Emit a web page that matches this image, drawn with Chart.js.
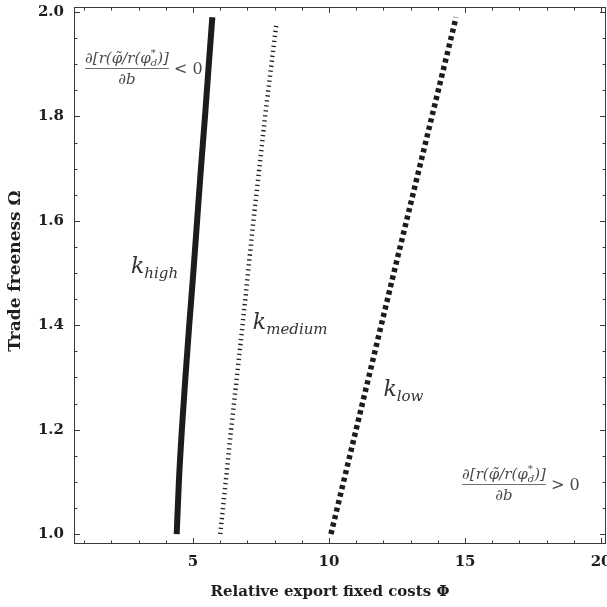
<!DOCTYPE html>
<html lang="en">
<head>
<meta charset="UTF-8">
<title>Trade freeness vs relative export fixed costs</title>
<script src="https://cdn.jsdelivr.net/npm/chart.js"></script>
<style>
  html, body { margin: 0; padding: 0; background: #fff; }
  #wrap { width: 607px; height: 607px; position: relative; }
</style>
</head>
<body>
<div id="wrap"><canvas id="chart"></canvas></div>
<script>
// curve data (Phi on x, Omega on y)
const omegaHigh = [1.0, 1.1, 1.2, 1.3, 1.4, 1.5, 1.6, 1.7, 1.8, 1.9, 1.99];
const phiHigh   = [4.40, 4.48, 4.59, 4.72, 4.86, 5.01, 5.15, 5.29, 5.44, 5.58, 5.71];

const omegaMedium = [1.0, 1.2, 1.4, 1.6, 1.8, 1.98];
const phiMedium   = [6.0, 6.40, 6.82, 7.22, 7.65, 8.07];

const omegaLow = [1.0, 1.5, 1.99];
const phiLow   = [10.07, 12.38, 14.67];

const xTicks = [5, 10, 15, 20];
const yTicks = [1.0, 1.2, 1.4, 1.6, 1.8, 2.0];

const toPoints = (xs, ys) => xs.map((x, i) => ({ x: x, y: ys[i] }));

// tick marks (inward, all four sides) + labels on the plot
const decorPlugin = {
  id: 'decor',
  afterDraw(chart) {
    const ctx = chart.ctx;
    const a = chart.chartArea;
    const xs = chart.scales.x, ys = chart.scales.y;
    ctx.save();
    ctx.strokeStyle = '#3a3a3a';
    ctx.lineWidth = 1;
    ctx.strokeRect(a.left + 0.5, a.top + 0.5, a.right - a.left - 1, a.bottom - a.top - 1);

    // x ticks: minor every 1, major every 5
    for (let v = 1; v <= 20; v++) {
      const px = Math.round(xs.getPixelForValue(v)) + 0.5;
      const len = v % 5 === 0 ? 6 : 3.5;
      ctx.beginPath();
      ctx.moveTo(px, a.bottom); ctx.lineTo(px, a.bottom - len);
      ctx.moveTo(px, a.top); ctx.lineTo(px, a.top + len);
      ctx.stroke();
    }
    // y ticks: minor every 0.05, major every 0.2
    for (let i = 0; i <= 20; i++) {
      const v = 1 + i * 0.05;
      const py = Math.round(ys.getPixelForValue(v)) + 0.5;
      const len = i % 4 === 0 ? 6 : 3.5;
      ctx.beginPath();
      ctx.moveTo(a.left, py); ctx.lineTo(a.left + len, py);
      ctx.moveTo(a.right, py); ctx.lineTo(a.right - len, py);
      ctx.stroke();
    }

    // axis titles
    ctx.fillStyle = '#1e1e1e';
    ctx.textAlign = 'center';
    ctx.textBaseline = 'middle';
    ctx.font = 'bold 15px "DejaVu Serif", serif';
    ctx.fillText('Relative export fixed costs \u03A6', 330, 592);
    ctx.save();
    ctx.translate(16, 271);
    ctx.rotate(-Math.PI / 2);
    ctx.font = 'bold 17px "DejaVu Serif", serif';
    ctx.fillText('Trade freeness \u03A9', 0, 0);
    ctx.restore();

    // curve labels k_high, k_medium, k_low
    const kLabel = (sub, x, y) => {
      ctx.fillStyle = '#333';
      ctx.textAlign = 'left';
      ctx.textBaseline = 'alphabetic';
      ctx.font = 'italic 22px "DejaVu Serif", serif';
      ctx.fillText('k', x, y);
      const w = ctx.measureText('k').width;
      ctx.font = 'italic 15px "DejaVu Serif", serif';
      ctx.fillText(sub, x + w, y + 5);
    };
    kLabel('high', xs.getPixelForValue(2.72), ys.getPixelForValue(1.5));
    kLabel('medium', xs.getPixelForValue(7.2), ys.getPixelForValue(1.393));
    kLabel('low', xs.getPixelForValue(12.0), ys.getPixelForValue(1.265));

    // derivative fractions
    const fraction = (cx, lineY, rel) => {
      ctx.fillStyle = '#4a4a4a';
      ctx.strokeStyle = '#4a4a4a';
      ctx.textBaseline = 'alphabetic';
      const big = 'italic 15px "DejaVu Serif", serif';
      const small = 'italic 10px "DejaVu Serif", serif';
      const runs = [
        { t: '\u2202[r(', f: big, dy: 0 },
        { t: '\u03C6\u0303', f: big, dy: 0 },
        { t: '/r(\u03C6', f: big, dy: 0 },
        { t: '*', f: small, dy: -7, stack: true },
        { t: 'd', f: small, dy: 3 },
        { t: ')]', f: big, dy: 0 }
      ];
      let total = 0;
      runs.forEach(r => { ctx.font = r.f; r.w = ctx.measureText(r.t).width; if (!r.stack) total += r.w; });
      let x = cx - total / 2;
      const left = x;
      runs.forEach(r => {
        ctx.font = r.f;
        ctx.textAlign = 'left';
        ctx.fillText(r.t, x, lineY - 5 + r.dy);
        if (!r.stack) x += r.w;
      });
      ctx.lineWidth = 0.8;
      ctx.beginPath();
      ctx.moveTo(left, lineY + 0.5); ctx.lineTo(x, lineY + 0.5);
      ctx.stroke();
      ctx.font = big;
      ctx.textAlign = 'center';
      ctx.fillText('\u2202b', cx, lineY + 16);
      ctx.textAlign = 'left';
      ctx.font = '16px "DejaVu Serif", serif';
      ctx.fillText(rel, x + 5, lineY + 6);
    };
    fraction(127, 68, '< 0');
    fraction(504, 484, '> 0');
    ctx.restore();
  }
};

new Chart(document.getElementById('chart'), {
  type: 'scatter',
  data: {
    datasets: [
      {
        label: 'k high',
        data: toPoints(phiHigh, omegaHigh),
        showLine: true,
        borderColor: '#1c1c1c',
        borderWidth: 6,
        pointRadius: 0,
        cubicInterpolationMode: 'monotone',
        fill: false
      },
      {
        label: 'k medium',
        data: toPoints(phiMedium, omegaMedium),
        showLine: true,
        borderColor: '#222',
        borderWidth: 4.5,
        borderDash: [1.3, 3.7],
        borderCapStyle: 'butt',
        pointRadius: 0,
        fill: false
      },
      {
        label: 'k low',
        data: toPoints(phiLow, omegaLow),
        showLine: true,
        borderColor: '#1c1c1c',
        borderWidth: 5.5,
        borderDash: [4.2, 3.5],
        borderCapStyle: 'butt',
        pointRadius: 0,
        fill: false
      }
    ]
  },
  options: {
    responsive: true,
    maintainAspectRatio: false,
    animation: false,
    layout: { padding: { top: 7, right: 1, left: 0, bottom: 0 } },
    plugins: { legend: { display: false }, tooltip: { enabled: false } },
    scales: {
      x: {
        type: 'linear',
        min: 0.625,
        max: 20.18,
        afterBuildTicks: s => { s.ticks = xTicks.map(v => ({ value: v })); },
        afterFit: s => { s.height = 63; s.paddingLeft = 0; s.paddingRight = 0; },
        grid: { display: false, drawTicks: false },
        border: { display: false },
        ticks: { color: '#1e1e1e', padding: 9, maxRotation: 0, font: { family: '"DejaVu Serif", serif', size: 15, weight: 'bold' } }
      },
      y: {
        type: 'linear',
        min: 0.981,
        max: 2.0096,
        afterBuildTicks: s => { s.ticks = yTicks.map(v => ({ value: v })); },
        afterFit: s => { s.width = 74; s.paddingTop = 0; s.paddingBottom = 0; },
        grid: { display: false, drawTicks: false },
        border: { display: false },
        ticks: {
          color: '#1e1e1e', padding: 10,
          callback: v => Number(v).toFixed(1),
          font: { family: '"DejaVu Serif", serif', size: 15, weight: 'bold' }
        }
      }
    }
  },
  plugins: [decorPlugin]
});
</script>
</body>
</html>
